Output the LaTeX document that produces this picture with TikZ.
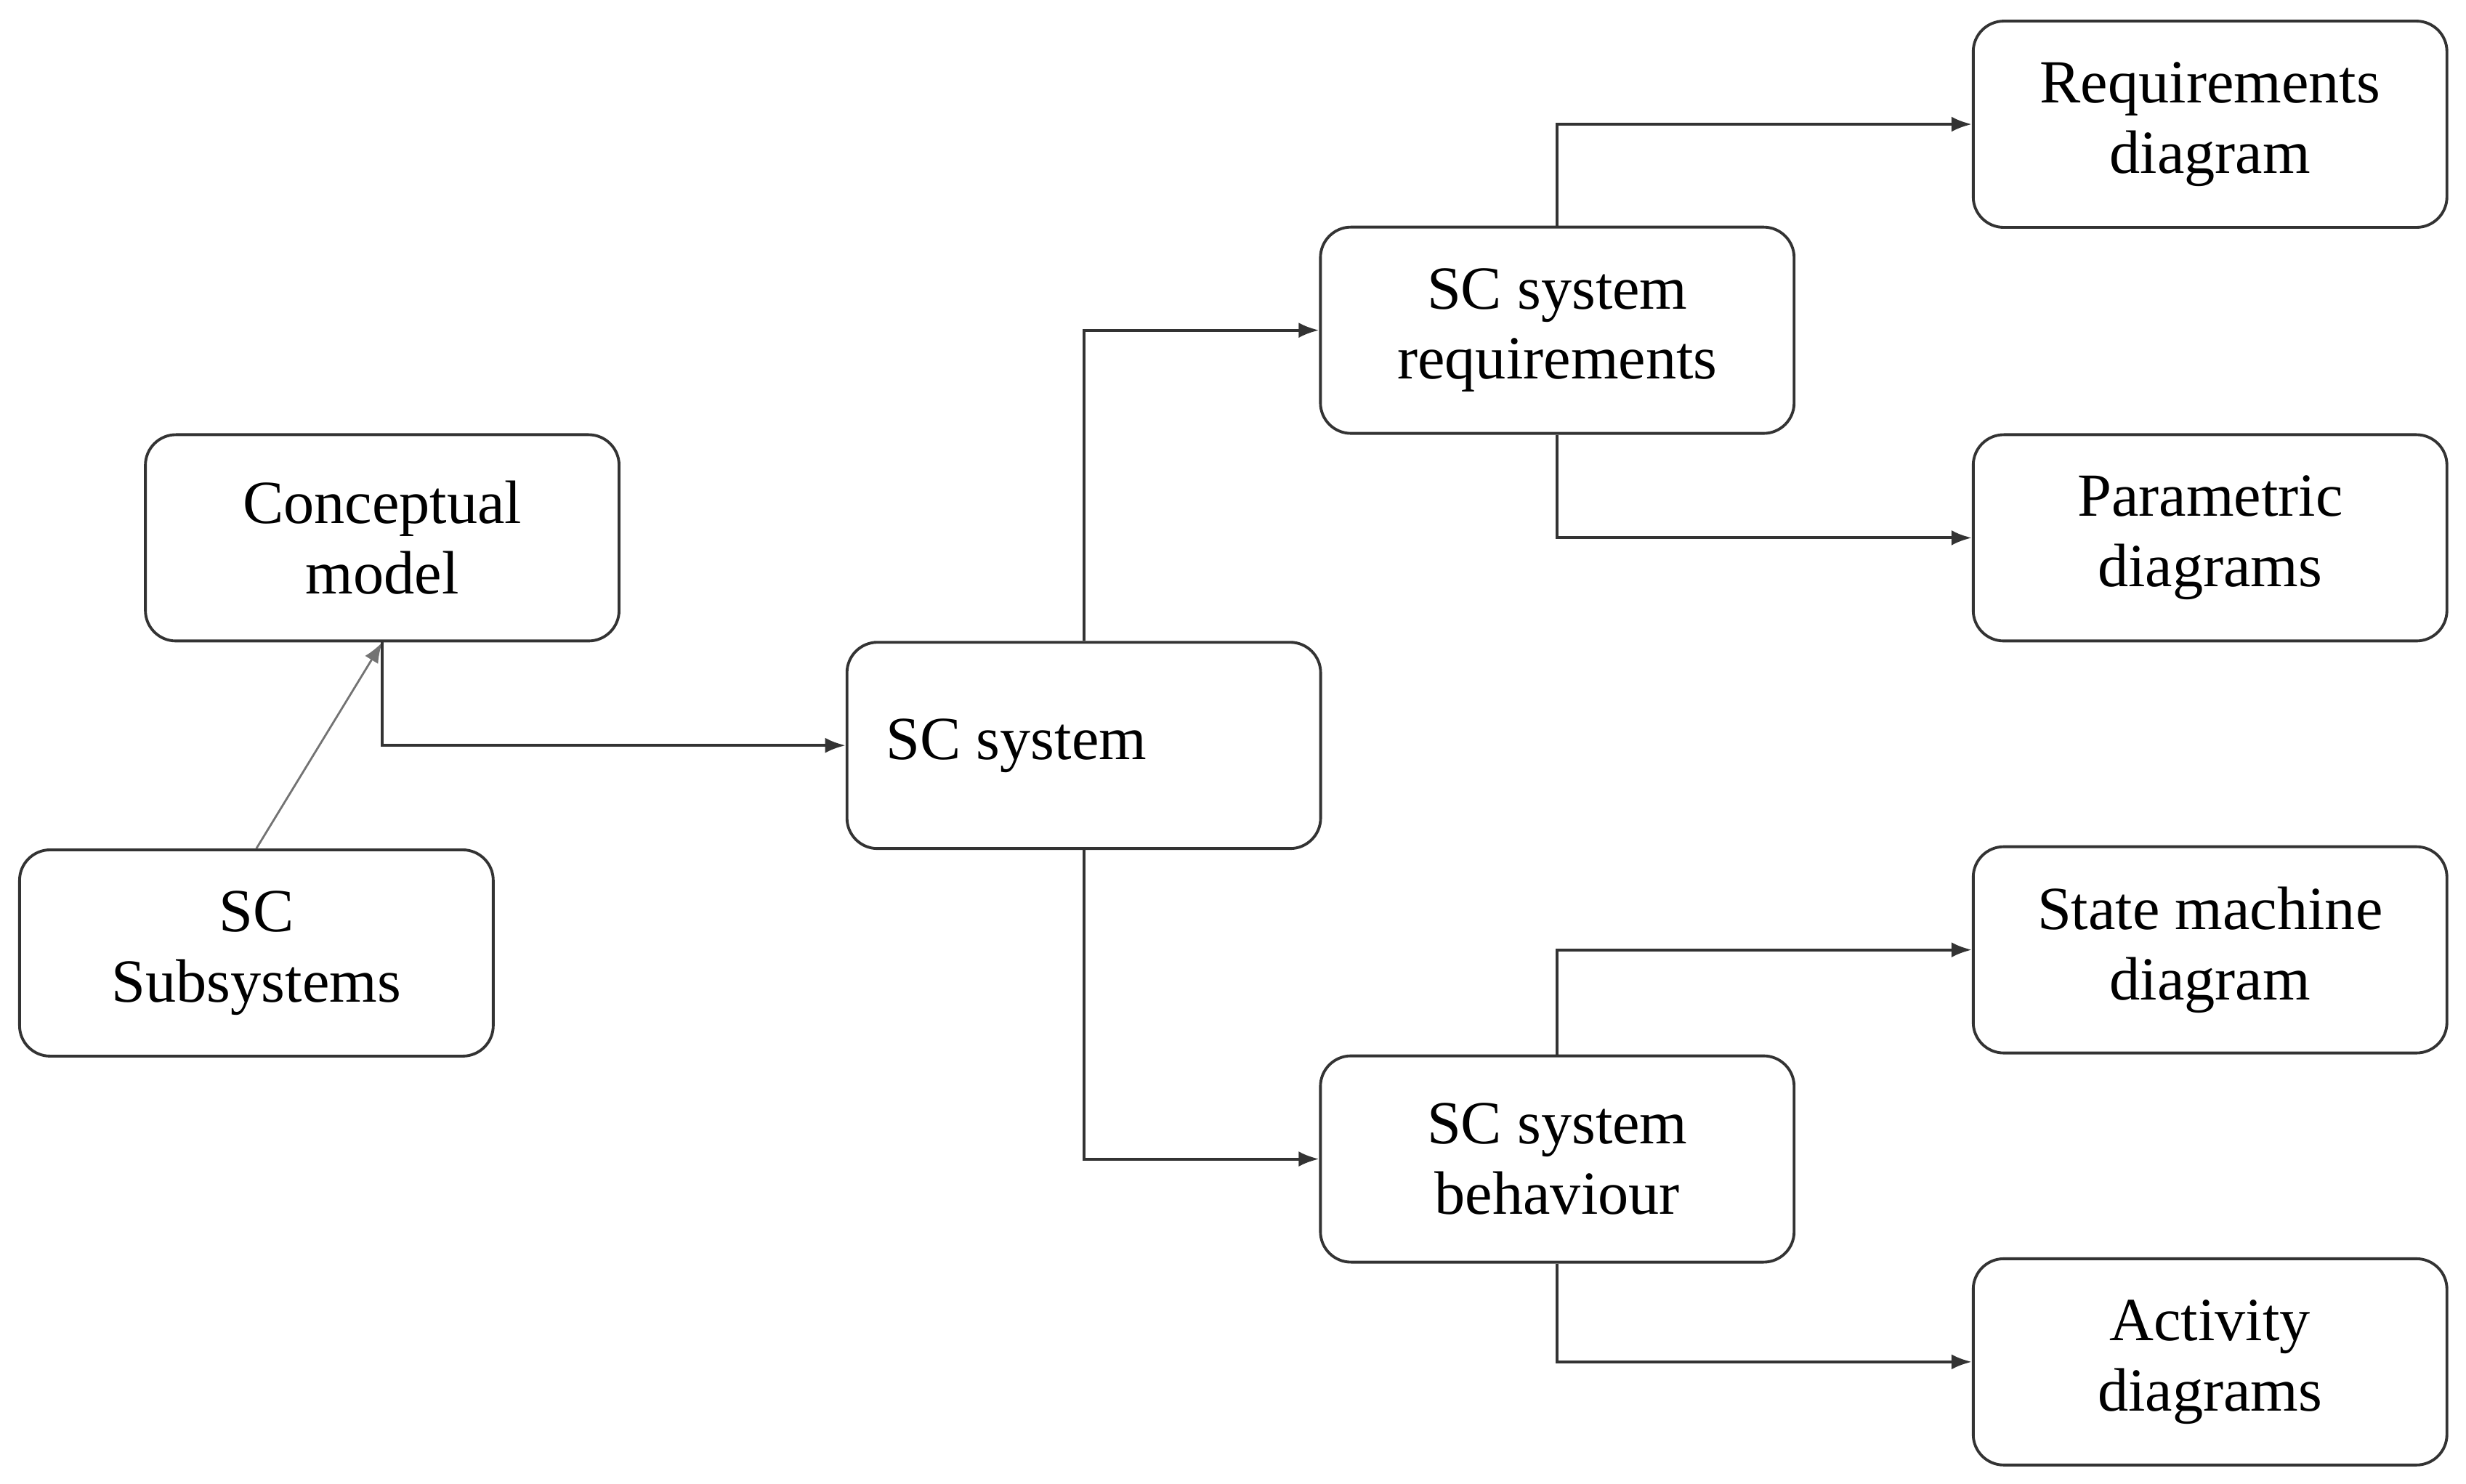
\documentclass[tikz,border=0pt]{standalone}
\usepackage{fontspec}
\setmainfont{Liberation Serif}
\usetikzlibrary{arrows.meta}
\begin{document}
\begin{tikzpicture}[x=0.02165cm,y=-0.02165cm,
  box/.style={draw=black!80,line width=1.1pt,rounded corners=0.42cm,minimum width=6.52cm,minimum height=2.84cm,align=center,inner sep=0pt,font=\fontsize{24}{27.5}\selectfont},
  lbl/.style={font=\fontsize{24}{27.5}\selectfont,inner sep=0pt},
  conn/.style={draw=black!80,line width=1.1pt,-{Latex[length=8pt,width=6pt]}}]
\useasboundingbox (0,0) rectangle (1567.7,943.6);
\node[box] (rd) at (1405,79) {Requirements\\diagram};
\node[box] (sr) at (990,210) {SC system\\requirements};
\node[box] (pd) at (1405,342) {Parametric\\diagrams};
\node[box] (cm) at (243,342) {Conceptual\\model};
\node[box] (sc) at (689,474) {};
\node[lbl,anchor=west] (sct) at (563,474) {SC system};
\node[box] (ss) at (163,606) {SC\\Subsystems};
\node[box] (sm) at (1405,604) {State machine\\diagram};
\node[box] (sb) at (990,737) {SC system\\behaviour};
\node[box] (ad) at (1405,866) {Activity\\diagrams};
\draw[conn,draw=black!55,line width=0.8pt] (ss.north) -- (cm.south);
\draw[conn] (cm.south) |- (sc.west);
\draw[conn] (sc.north) |- (sr.west);
\draw[conn] (sc.south) |- (sb.west);
\draw[conn] (sr.north) |- (rd.west);
\draw[conn] (sr.south) |- (pd.west);
\draw[conn] (sb.north) |- (sm.west);
\draw[conn] (sb.south) |- (ad.west);
\end{tikzpicture}
\end{document}
